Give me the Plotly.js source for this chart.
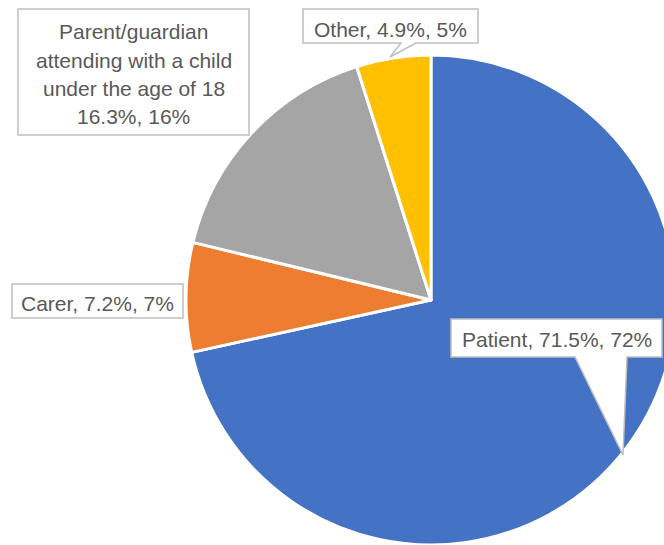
<!DOCTYPE html>
<html>
<head>
<meta charset="utf-8">
<script src="https://cdn.plot.ly/plotly-3.0.1.min.js"></script>
<style>
html,body{margin:0;padding:0;overflow:hidden;width:664px;height:545px;background:#fff;}
#chart{width:700px;height:545px;}
</style>
</head>
<body>
<div id="chart"></div>
<script>
// Data
const categories = ['Patient', 'Carer', 'Parent/guardian attending with a child under the age of 18', 'Other'];
const labelLines = [['Patient'], ['Carer'], ['Parent/guardian', 'attending with a child', 'under the age of 18'], ['Other']];
const values = [71.5, 7.2, 16.3, 4.9];
const colors = ['#4472C4', '#ED7D31', '#A5A5A5', '#FFC000'];

// Layout helpers (pixel -> paper)
const W = 700, H = 545, ML = 186, MR = 24, MT = 55, MB = 0;
const PW = W - ML - MR, PH = H - MT - MB;
const px = X => (X - ML) / PW;
const py = Y => (H - MB - Y) / PH;
function pathOf(pts) {
  return 'M ' + pts.map(p => px(p[0]).toFixed(5) + ',' + py(p[1]).toFixed(5)).join(' L ') + ' Z';
}

const total = values.reduce((a, b) => a + b, 0);
const pct = values.map(v => Math.round(v / total * 100));
const labelText = categories.map((c, i) => values[i] + '%, ' + pct[i] + '%');

// Callout box geometry (pixels): box + optional pointer
const boxes = [
  {box: [451, 319, 662, 357], ptr: [[627, 357], [623, 455], [575, 357]], lineY: [339]},
  {box: [12, 284, 183, 318], ptr: null, lineY: [303]},
  {box: [18, 9, 249, 135], ptr: null, lineY: [31, 60, 88, 117]},
  {box: [303, 9, 478, 43], ptr: [[416, 43], [390, 57], [401, 43]], lineY: [29.5]}
];

const shapes = [];
const annotations = [];
const font = {family: 'Liberation Sans, Arial, sans-serif', size: 21, color: '#595959'};
boxes.forEach((b, i) => {
  const [x0, y0, x1, y1] = b.box;
  let pts;
  if (b.ptr) {
    pts = [[x0, y0], [x1, y0], [x1, y1]].concat(b.ptr).concat([[x0, y1]]);
  } else {
    pts = [[x0, y0], [x1, y0], [x1, y1], [x0, y1]];
  }
  shapes.push({type: 'path', xref: 'paper', yref: 'paper', path: pathOf(pts),
    fillcolor: '#FFFFFF', line: {color: '#BFBFBF', width: 1.5}, layer: 'above'});
  let lines;
  if (labelLines[i].length > 1) {
    lines = labelLines[i].concat([labelText[i]]);
  } else {
    lines = [labelLines[i][0] + ', ' + labelText[i]];
  }
  lines.forEach((t, k) => {
    annotations.push({xref: 'paper', yref: 'paper', x: px((x0 + x1) / 2), y: py(b.lineY[k]),
      xanchor: 'center', yanchor: 'middle', showarrow: false, text: t, font: font});
  });
});

const trace = {
  type: 'pie',
  labels: categories,
  values: values,
  sort: false,
  direction: 'clockwise',
  rotation: 0,
  textinfo: 'none',
  hoverinfo: 'none',
  marker: {colors: colors, line: {color: '#FFFFFF', width: 3}},
  showlegend: false
};

Plotly.newPlot('chart', [trace], {
  width: W, height: H,
  margin: {l: ML, r: MR, t: MT, b: MB, pad: 0},
  paper_bgcolor: '#FFFFFF',
  shapes: shapes,
  annotations: annotations,
  showlegend: false
}, {displayModeBar: false, staticPlot: true});
</script>
</body>
</html>
